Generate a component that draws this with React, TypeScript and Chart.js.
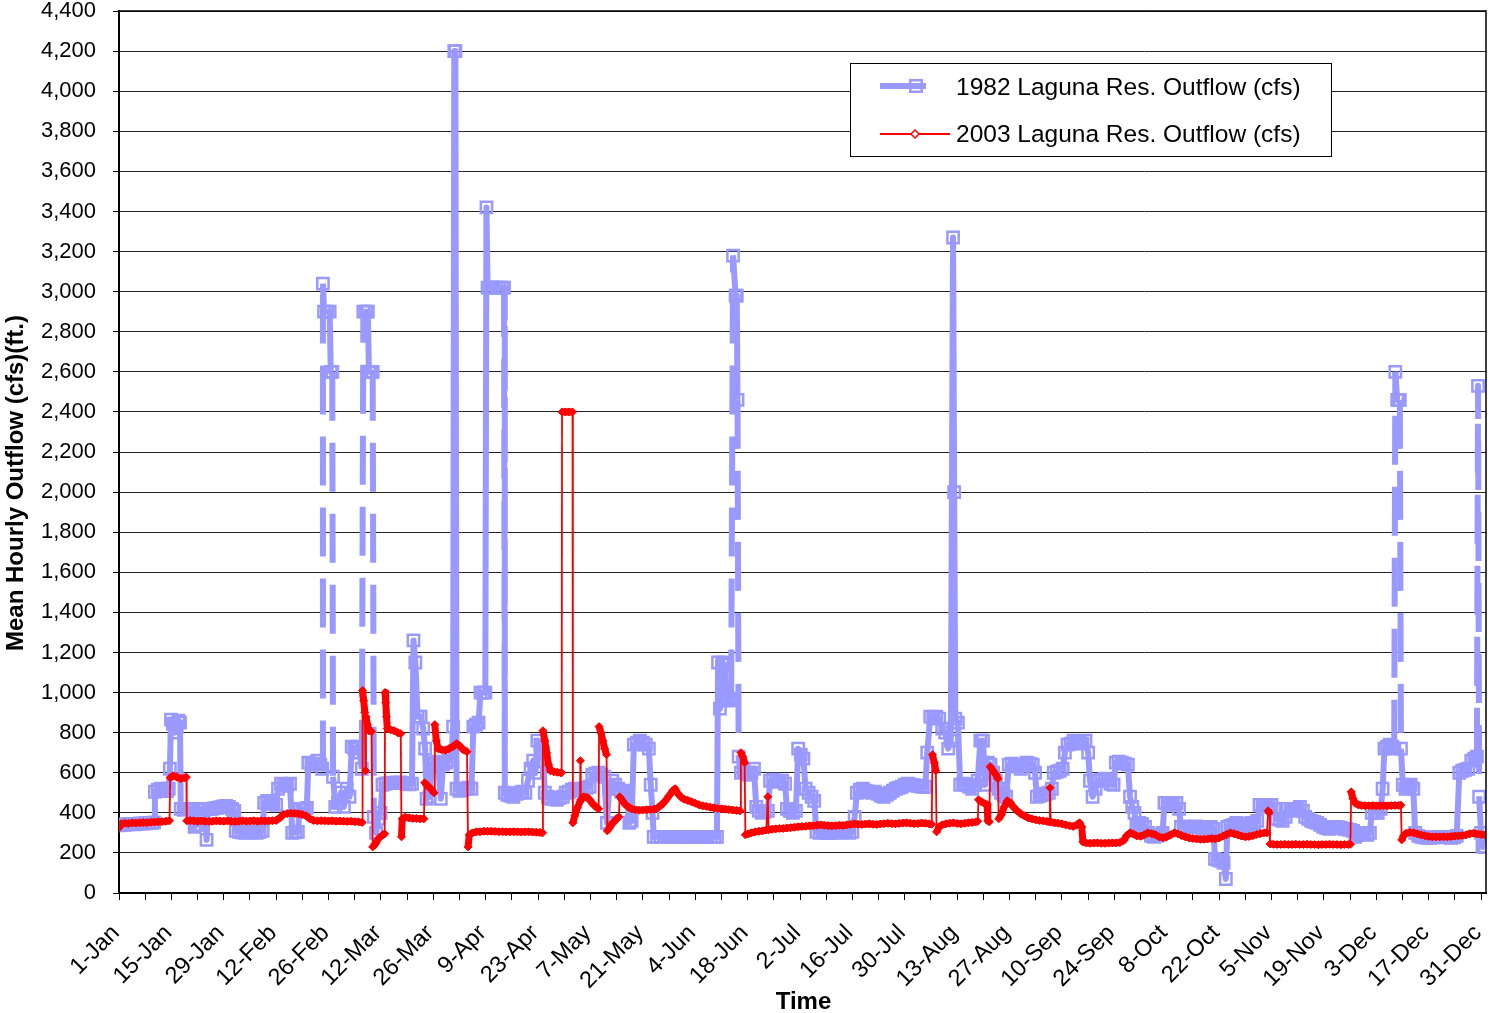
import React, { useEffect, useRef } from 'react';
import { Chart, registerables } from 'chart.js';

Chart.register(...registerables);

// ---------------- data ----------------
const xTickLabels = [
  '1-Jan', '15-Jan', '29-Jan', '12-Feb', '26-Feb', '12-Mar', '26-Mar', '9-Apr', '23-Apr',
  '7-May', '21-May', '4-Jun', '18-Jun', '2-Jul', '16-Jul', '30-Jul', '13-Aug', '27-Aug',
  '10-Sep', '24-Sep', '8-Oct', '22-Oct', '5-Nov', '19-Nov', '3-Dec', '17-Dec', '31-Dec',
];

const seriesNames = ['1982 Laguna Res. Outflow (cfs)', '2003 Laguna Res. Outflow (cfs)'];

// [day of year (0 = 1-Jan), mean hourly outflow cfs]
const outflow1982: [number, number][] = [
  [0, 338], [0.8, 342], [1.6, 340], [2.4, 343], [3.2, 345], [4.0, 343], [4.8, 345], [5.6, 347], [6.4, 346], [7.2, 348], [8.0, 350], [8.8, 350], [9.4, 352],
  [9.6, 505], [10.4, 515], [11.2, 520], [12.0, 512], [12.8, 508], [13.3, 520],
  [13.6, 620], [13.9, 865], [14.4, 845], [14.9, 800], [15.4, 830], [15.9, 860], [16.3, 850],
  [16.5, 420], [17.3, 415], [18.1, 418], [18.9, 420], [19.7, 416],
  [20.2, 330], [20.8, 340], [21.3, 418], [22.1, 420], [22.9, 418],
  [23.4, 265], [23.8, 418], [24.6, 420], [25.4, 422], [26.2, 425], [27.0, 428], [27.8, 432], [28.6, 435], [29.4, 430], [30.2, 420], [30.8, 410],
  [31.2, 310], [32.0, 305], [32.8, 302], [33.6, 300], [34.4, 302], [35.2, 305], [36.0, 302], [36.8, 300], [37.6, 305], [38.4, 310],
  [38.8, 450], [39.6, 460], [40.4, 455], [41.2, 445], [42.0, 440],
  [42.5, 520], [43.3, 545], [44.1, 540], [44.9, 535], [45.7, 545],
  [46.3, 300], [47.1, 302], [47.8, 305],
  [48.3, 420], [49.0, 415], [49.6, 420], [50.2, 425],
  [50.6, 650], [51.4, 640], [52.2, 645], [53.0, 660], [53.8, 640], [54.3, 620],
  [54.5, 3040], [54.8, 2900], [55.6, 2900], [56.3, 2900], [56.6, 2600], [57.0, 2600],
  [57.2, 580], [57.8, 430], [58.5, 450], [59.3, 500], [60.1, 430], [60.9, 520], [61.6, 480],
  [62.2, 730], [62.9, 720], [63.6, 730], [64.3, 700], [64.9, 620],
  [65.3, 2900], [66.0, 2900], [66.5, 2900], [66.8, 2600], [67.3, 2600], [67.8, 2600],
  [68.1, 380], [68.7, 300], [69.3, 370], [69.9, 400],
  [70.4, 540], [71.2, 545], [72.0, 548], [72.8, 550], [73.6, 548], [74.4, 550], [75.2, 552], [76.0, 548], [76.8, 545], [77.6, 542], [78.3, 545],
  [78.7, 1260], [79.2, 1150], [79.8, 880], [80.6, 880], [81.3, 820], [81.8, 720],
  [82.2, 470], [83.0, 480], [83.6, 640], [84.4, 650], [85.2, 655], [86.0, 470], [86.6, 640], [87.4, 650], [88.2, 660], [88.9, 700],
  [89.3, 830], [89.6, 4200], [89.9, 4200], [90.2, 520], [91.0, 510], [91.8, 515], [92.6, 520], [93.4, 525], [94.2, 520],
  [94.7, 830], [95.4, 840], [96.1, 850], [96.6, 1000], [97.3, 1000], [97.9, 1000],
  [98.2, 3420], [98.5, 3020], [99.3, 3020], [100.1, 3020], [100.9, 3020], [101.7, 3020], [102.5, 3020], [102.9, 3020],
  [103.1, 500], [103.8, 490], [104.6, 485], [105.4, 480], [106.2, 495], [107.0, 500], [107.8, 505], [108.6, 500],
  [109.3, 560], [110.0, 620], [110.7, 660], [111.3, 600],
  [111.8, 760], [112.6, 740], [113.3, 700],
  [113.8, 500], [114.6, 480], [115.4, 470], [116.2, 470], [117.0, 465], [117.8, 475], [118.6, 480], [119.4, 500], [120.2, 505], [121.0, 515], [121.8, 520], [122.6, 510], [123.4, 515], [124.2, 520], [125.0, 525], [125.8, 530],
  [126.5, 590], [127.3, 595], [128.1, 600], [128.9, 590], [129.7, 580],
  [130.4, 350], [131.0, 520], [131.8, 560], [132.6, 540], [133.4, 520], [134.2, 505], [135.0, 500], [135.8, 510],
  [136.4, 350], [137.0, 360],
  [137.6, 740], [138.4, 750], [139.2, 760], [140.0, 750], [140.8, 740], [141.6, 720],
  [142.1, 540], [142.6, 400],
  [142.9, 280], [143.8, 280], [144.7, 280], [145.6, 280], [146.5, 280], [147.4, 280], [148.3, 280], [149.2, 280], [150.1, 280], [151.0, 280], [151.9, 280], [152.8, 280], [153.7, 280], [154.6, 280], [155.5, 280], [156.4, 280], [157.3, 280], [158.2, 280], [159.1, 280], [159.8, 280],
  [160.1, 1150], [160.6, 920], [161.2, 1150], [161.8, 1140], [162.4, 980], [163.0, 960], [163.6, 970],
  [164.1, 3180], [164.8, 2980], [165.1, 2980], [165.3, 2460],
  [165.6, 680], [166.2, 600], [166.9, 610], [167.6, 600], [168.3, 590], [169.0, 600], [169.7, 620],
  [170.3, 430], [171.0, 410], [171.8, 400], [172.6, 405], [173.4, 410],
  [174.0, 560], [174.8, 565], [175.6, 560], [176.4, 555], [177.2, 560], [178.0, 545],
  [178.5, 420], [179.3, 410], [180.1, 400], [180.9, 410],
  [181.5, 720], [182.2, 690], [182.9, 670],
  [183.5, 520], [184.3, 500], [185.1, 480], [185.8, 460],
  [186.4, 305], [187.2, 300], [188.0, 305], [188.8, 300], [189.6, 302], [190.4, 300], [191.2, 305], [192.0, 300], [192.8, 305], [193.6, 310], [194.4, 305], [195.2, 300], [196.0, 305],
  [196.6, 380], [197.2, 500], [198.0, 515], [198.8, 520], [199.6, 510], [200.4, 505], [201.2, 500], [202.0, 505], [202.8, 495], [203.6, 485], [204.4, 480], [205.2, 490], [206.0, 500], [206.8, 510], [207.6, 520], [208.4, 525], [209.2, 530], [210.0, 540], [210.8, 545], [211.6, 540], [212.4, 538], [213.2, 535], [214.0, 532], [214.8, 530], [215.5, 530],
  [216.0, 700], [216.8, 880], [217.6, 875], [218.4, 880], [219.2, 870], [220.0, 820], [220.8, 800], [221.6, 720], [222.3, 760],
  [222.9, 3270], [223.2, 2000], [223.5, 870], [224.2, 850],
  [224.8, 540], [225.6, 545], [226.4, 540], [227.2, 530], [228.0, 520], [228.8, 540], [229.5, 560],
  [230.2, 760], [230.9, 760],
  [231.5, 540], [232.2, 650], [232.9, 640], [233.6, 600], [234.3, 560], [235.0, 520], [235.7, 500], [236.4, 490], [237.1, 480],
  [237.8, 640], [238.6, 645], [239.4, 640], [240.2, 630], [241.0, 620], [241.8, 640], [242.6, 650], [243.4, 645], [244.2, 640], [244.8, 600],
  [245.3, 480], [246.1, 485], [246.9, 490], [247.7, 495], [248.5, 500], [249.3, 520],
  [249.8, 600], [250.6, 605], [251.4, 610], [252.2, 620],
  [252.8, 700], [253.5, 740], [254.3, 745], [255.1, 760], [255.9, 755], [256.7, 750], [257.5, 745], [258.3, 760], [259.0, 700],
  [259.5, 560], [260.2, 480], [261.0, 520], [261.8, 560], [262.6, 565], [263.4, 570], [264.2, 560], [265.0, 545], [265.8, 540],
  [266.4, 650], [267.2, 655], [268.0, 650], [268.8, 645], [269.6, 640],
  [270.2, 480], [270.8, 430], [271.4, 400],
  [271.9, 340], [272.6, 350], [273.4, 345], [274.2, 330], [275.0, 300], [275.8, 285], [276.6, 280], [277.4, 285], [278.2, 290], [278.9, 300],
  [279.4, 450], [280.2, 445], [281.0, 440], [281.8, 445], [282.6, 450], [283.3, 420],
  [283.8, 330], [284.6, 332], [285.4, 330], [286.2, 328], [287.0, 330], [287.8, 332], [288.6, 330], [289.4, 325], [290.2, 320], [291.0, 325], [291.8, 330], [292.5, 320],
  [292.9, 170], [293.6, 165], [294.4, 160], [295.2, 150], [295.8, 70],
  [296.2, 330], [297.0, 335], [297.8, 340], [298.6, 350], [299.4, 345], [300.2, 335], [301.0, 330], [301.8, 340], [302.6, 350], [303.4, 345], [304.2, 360],
  [304.8, 440], [305.6, 435], [306.4, 430], [307.2, 435], [308.0, 440], [308.8, 420],
  [309.4, 370], [310.2, 365], [311.0, 360], [311.8, 380],
  [312.4, 420], [313.2, 415], [314.0, 410], [314.8, 420], [315.6, 430], [316.4, 410],
  [317.0, 380], [317.8, 370], [318.6, 360], [319.4, 355], [320.2, 350], [321.0, 340], [321.8, 330], [322.6, 325], [323.4, 320], [324.2, 325], [325.0, 330], [325.8, 328], [326.6, 325], [327.4, 320], [328.2, 318], [329.0, 315], [329.8, 310],
  [330.4, 280], [331.2, 290], [332.0, 300], [332.8, 295], [333.6, 290], [334.3, 300],
  [334.8, 400], [335.6, 405], [336.4, 400], [337.2, 420],
  [337.7, 520], [338.2, 720], [338.9, 730], [339.6, 740], [340.3, 730], [340.8, 720],
  [341.1, 2600], [341.6, 2460], [342.0, 2460], [342.3, 2460],
  [342.6, 720], [343.1, 540], [343.8, 520], [344.5, 530], [345.2, 540], [345.9, 520],
  [346.4, 300], [347.2, 285], [348.0, 280], [348.8, 278], [349.6, 275], [350.4, 275], [351.2, 278], [352.0, 280], [352.8, 280], [353.6, 278], [354.4, 280], [355.2, 278], [356.0, 275], [356.8, 278], [357.5, 285],
  [358.2, 600], [359.0, 610], [359.8, 615], [360.6, 620], [361.4, 660], [362.2, 670], [362.9, 680],
  [363.2, 2530], [363.5, 480], [364.0, 300], [364.4, 230], [365.0, 230],
];

const outflow2003: [number, number][] = [
  [0, 325], [0.5, 345], [1.5, 348], [2.5, 347], [3.5, 350], [4.5, 349], [5.5, 350], [6.5, 352], [7.5, 351], [8.5, 353], [9.5, 354], [10.5, 355], [11.5, 356], [12.5, 358], [13.5, 360],
  [13.7, 575], [14.5, 585], [15.5, 578], [16.5, 570], [17.5, 575], [18.0, 578],
  [18.1, 360], [19, 362], [20, 360], [21, 358], [22, 360], [23, 358], [24, 357], [25, 358], [26, 360], [27, 359], [28, 358], [29, 360], [30, 358], [31, 357], [32, 358], [33, 360], [34, 358], [35, 359], [36, 360], [37, 358], [38, 360], [39, 359], [40, 360], [41, 361], [42, 362],
  [43, 375], [44, 392], [45, 396], [46, 398], [47, 397], [48, 395], [49, 392], [50, 385], [51, 370], [52, 362], [53, 360], [54, 361], [55, 360], [56, 359], [57, 360], [58, 358], [59, 359], [60, 358], [61, 357], [62, 358], [63, 356], [64, 355], [65, 352],
  [65.1, 1010], [65.4, 960], [65.7, 900], [65.9, 610], [66.0, 880], [66.4, 840], [66.8, 810], [67.5, 805],
  [67.8, 230], [68.5, 245], [69.5, 275], [70.5, 290], [71.0, 295],
  [71.1, 1000], [71.3, 950], [71.5, 880], [71.7, 820], [72.5, 815], [73.5, 810], [74.5, 800], [75.3, 795],
  [75.5, 280], [75.7, 370], [76.5, 378], [77.5, 375], [78.5, 372], [79.5, 372], [80.5, 370], [81.5, 370],
  [81.7, 550], [82.5, 535], [83.3, 520], [84.2, 500],
  [84.4, 840], [84.8, 760], [85.3, 720], [86.2, 715], [87.2, 712], [88.2, 720], [89.2, 730], [90.2, 745], [91.0, 735], [92.0, 715], [93.0, 705],
  [93.3, 230], [93.6, 290], [94.5, 300], [95.5, 305], [96.5, 305], [97.5, 308], [98.5, 308], [99.5, 308], [100.5, 307], [101.5, 306], [102.5, 306], [103.5, 305], [104.5, 305], [105.5, 306], [106.5, 305], [107.5, 304], [108.5, 305], [109.5, 305], [110.5, 304], [111.5, 303], [112.5, 302], [113.2, 300],
  [113.3, 810], [113.8, 760], [114.3, 700], [114.8, 640], [115.3, 610], [116.2, 605], [117.2, 602], [118.0, 600], [118.3, 600],
  [118.4, 2400], [119.3, 2400], [120.2, 2400], [121.2, 2400],
  [121.3, 350], [121.8, 385], [122.5, 425], [123.2, 455], [123.3, 660], [123.4, 465], [124.2, 480], [125.0, 478], [125.8, 465], [126.6, 445], [127.4, 430], [128.2, 420],
  [128.3, 830], [128.8, 800], [129.3, 760], [129.8, 720], [130.3, 690],
  [130.5, 310], [131.2, 330], [132.0, 350], [132.8, 365], [133.6, 380],
  [133.8, 480], [134.6, 460], [135.4, 440], [136.2, 428], [137.0, 420], [138.0, 415], [139.0, 413], [140.0, 414], [141.0, 415], [142.0, 416], [143.0, 418], [144.0, 425], [145.0, 440], [146.0, 460], [147.0, 485], [148.0, 510], [148.6, 520], [149.4, 495], [150.2, 478], [151.0, 468], [152.0, 462], [153.0, 455], [154.0, 448], [155.0, 440], [156.0, 435], [157.0, 432], [158.0, 428], [159.0, 425], [160.0, 422], [161.0, 420], [162.0, 418], [163.0, 416], [164.0, 414], [165.0, 412], [166.0, 410],
  [166.2, 700], [166.7, 680], [167.2, 650],
  [167.4, 290], [168.2, 295], [169.0, 300], [170.0, 305], [171.0, 308], [172.0, 310], [173.0, 314], [173.4, 480], [173.6, 315], [174.5, 318], [175.5, 320], [176.5, 322], [177.5, 322], [178.5, 324], [179.5, 326], [180.5, 328], [181.5, 330], [182.5, 332], [183.5, 333], [184.5, 335], [185.5, 336], [186.5, 338], [187.5, 340], [188.5, 338], [189.5, 336], [190.5, 335], [191.5, 336], [192.5, 338], [193.5, 337], [194.5, 340], [195.5, 342], [196.5, 345], [197.5, 343], [198.5, 342], [199.5, 344], [200.5, 345], [201.5, 343], [202.5, 342], [203.5, 344], [204.5, 346], [205.5, 348], [206.5, 346], [207.5, 345], [208.5, 347], [209.5, 349], [210.5, 350], [211.5, 348], [212.5, 346], [213.5, 347], [214.5, 349], [215.5, 348], [216.5, 345], [217.2, 343],
  [217.4, 690], [217.9, 650], [218.3, 610],
  [218.5, 305], [219.2, 330], [220.0, 340], [221.0, 345], [222.0, 348], [223.0, 350], [224.0, 347], [225.0, 345], [226.0, 348], [227.0, 350], [228.0, 352], [229.0, 355], [229.5, 358],
  [229.7, 465], [230.5, 455], [231.4, 445], [232.0, 440],
  [232.2, 360], [232.6, 355],
  [232.8, 630], [233.6, 610], [234.4, 590], [234.9, 570],
  [235.1, 370], [235.8, 390], [236.6, 430], [237.4, 460], [238.2, 450], [239.0, 430], [240.0, 410], [241.0, 395], [242.0, 385], [243.0, 375], [244.0, 370], [245.0, 365], [246.0, 362], [247.0, 360], [248.0, 357], [248.6, 355],
  [248.8, 525], [249.0, 355], [250.0, 350], [251.0, 348], [252.0, 345], [253.0, 340], [254.0, 336], [255.0, 332], [256.0, 340], [256.7, 350], [257.3, 330],
  [257.6, 255], [258.5, 250], [259.5, 248], [260.5, 249], [261.5, 250], [262.5, 248], [263.5, 248], [264.5, 249], [265.5, 250], [266.5, 250], [267.5, 252], [268.5, 262], [269.3, 285], [270.2, 300], [271.0, 295], [272.0, 285], [273.0, 283], [274.0, 290], [275.0, 300], [276.0, 296], [277.0, 290], [278.0, 280], [279.0, 276], [280.0, 280], [281.0, 290], [282.0, 300], [283.0, 295], [284.0, 287], [285.0, 280], [286.0, 275], [287.0, 272], [288.0, 270], [289.0, 268], [290.0, 268], [291.0, 270], [292.0, 272], [293.0, 270], [294.0, 275], [295.0, 283], [296.0, 292], [297.0, 300], [298.0, 296], [299.0, 290], [300.0, 284], [301.0, 280], [302.0, 282], [303.0, 286], [304.0, 292], [305.0, 296], [306.0, 300], [306.8, 300],
  [307.1, 410], [307.4, 400],
  [307.6, 245], [308.5, 243], [309.5, 242], [310.5, 242], [311.5, 243], [312.5, 242], [313.5, 242], [314.5, 243], [315.5, 242], [316.5, 242], [317.5, 243], [318.5, 242], [319.5, 242], [320.5, 241], [321.5, 242], [322.5, 242], [323.5, 243], [324.5, 242], [325.5, 242], [326.5, 241], [327.5, 242], [328.5, 242], [329.1, 243],
  [329.3, 505], [329.8, 470], [330.4, 448], [331.2, 440], [332.0, 437], [333.0, 436], [334.0, 435], [335.0, 436], [336.0, 435], [337.0, 435], [338.0, 436], [339.0, 435], [340.0, 436], [341.0, 437], [342.0, 437], [342.6, 438],
  [342.8, 265], [343.3, 285], [344.0, 298], [345.0, 303], [346.0, 300], [347.0, 295], [348.0, 290], [349.0, 286], [350.0, 282], [351.0, 280], [352.0, 280], [353.0, 280], [354.0, 281], [355.0, 280], [356.0, 282], [357.0, 284], [358.0, 285], [359.0, 287], [360.0, 290], [361.0, 296], [362.0, 298], [363.0, 295], [364.0, 292], [365.0, 290],
];

// ---------------- layout / style ----------------
const W = 1490;
const H = 1013;
const PLOT = { left: 119, right: 1486, top: 11, bottom: 893 };
const DAY_MAX = 365.33;
const Y_MAX = 4400;
const Y_STEP = 200;
const BLUE = '#9999FF';
const RED = '#FF0000';
const FONT = '"Liberation Sans", Arial, sans-serif';

const zeroPadding = (s: any) => {
  s.paddingTop = 0;
  s.paddingBottom = 0;
  s.paddingLeft = 0;
  s.paddingRight = 0;
};

const overlayPlugin = {
  id: 'excelOverlay',
  afterDraw(chart: any) {
    const { ctx, chartArea } = chart;
    ctx.save();
    // plot area border (top / right)
    ctx.strokeStyle = '#000';
    ctx.lineWidth = 1.5;
    ctx.beginPath();
    ctx.moveTo(chartArea.left, chartArea.top);
    ctx.lineTo(chartArea.right, chartArea.top);
    ctx.lineTo(chartArea.right, chartArea.bottom);
    ctx.stroke();

    // legend
    const lx = 850, ly = 63, lw = 481, lh = 93;
    ctx.fillStyle = '#fff';
    ctx.fillRect(lx, ly, lw, lh);
    ctx.lineWidth = 1;
    ctx.strokeStyle = '#000';
    ctx.strokeRect(lx + 0.5, ly + 0.5, lw, lh);

    // blue sample
    ctx.strokeStyle = BLUE;
    ctx.lineWidth = 6;
    ctx.beginPath();
    ctx.moveTo(880, 86);
    ctx.lineTo(926, 86);
    ctx.stroke();
    ctx.lineWidth = 2.5;
    ctx.strokeRect(916 - 5.75, 86 - 5.75, 11.5, 11.5);

    // red sample
    ctx.strokeStyle = RED;
    ctx.lineWidth = 2;
    ctx.beginPath();
    ctx.moveTo(880, 134);
    ctx.lineTo(950, 134);
    ctx.stroke();
    ctx.fillStyle = '#fff';
    ctx.lineWidth = 1.5;
    ctx.beginPath();
    ctx.moveTo(915, 130);
    ctx.lineTo(919, 134);
    ctx.lineTo(915, 138);
    ctx.lineTo(911, 134);
    ctx.closePath();
    ctx.fill();
    ctx.stroke();

    ctx.fillStyle = '#000';
    ctx.font = `24.5px ${FONT}`;
    ctx.textAlign = 'left';
    ctx.textBaseline = 'middle';
    ctx.fillText(seriesNames[0], 956, 88);
    ctx.fillText(seriesNames[1], 956, 135);

    // axis titles
    ctx.font = `bold 24px ${FONT}`;
    ctx.textAlign = 'center';
    ctx.textBaseline = 'middle';
    ctx.fillText('Time', (chartArea.left + chartArea.right) / 2 + 1, 1002);
    ctx.translate(16, 483);
    ctx.rotate(-Math.PI / 2);
    ctx.fillText('Mean Hourly Outflow (cfs)(ft.)', 0, 0);
    ctx.restore();
  },
};

export default function App() {
  const ref = useRef<HTMLCanvasElement>(null);

  useEffect(() => {
    const canvas = ref.current;
    if (!canvas) return;

    const chart = new Chart(canvas, {
      type: 'line',
      data: {
        datasets: [
          {
            label: seriesNames[0],
            data: outflow1982.map(([x, y]) => ({ x, y })),
            borderColor: BLUE,
            borderWidth: 6,
            borderJoinStyle: 'round',
            pointStyle: 'rect',
            pointRadius: 8,
            pointBorderWidth: 2.5,
            pointBorderColor: BLUE,
            pointBackgroundColor: 'rgba(0,0,0,0)',
            tension: 0,
            order: 1,
            segment: {
              borderDash: (c: any) => {
                const a = c.p0.parsed.y;
                const b = c.p1.parsed.y;
                return Math.abs(a - b) >= 1500 && Math.max(a, b) < 3250 ? [49, 22] : undefined;
              },
            },
          },
          {
            label: seriesNames[1],
            data: outflow2003.map(([x, y]) => ({ x, y })),
            borderColor: RED,
            borderWidth: 2,
            borderJoinStyle: 'round',
            pointStyle: 'rectRot',
            pointRadius: 4,
            pointBorderWidth: 1,
            pointBorderColor: RED,
            pointBackgroundColor: RED,
            tension: 0,
            order: 0,
            segment: {
              borderWidth: (c: any) => (Math.abs(c.p0.parsed.y - c.p1.parsed.y) < 100 ? 7 : 1.8),
            },
          },
        ],
      },
      options: {
        animation: false,
        responsive: false,
        events: [],
        layout: { autoPadding: false, padding: { left: 0, top: PLOT.top, right: W - PLOT.right, bottom: 0 } },
        plugins: {
          legend: { display: false },
          tooltip: { enabled: false },
          title: { display: false },
        },
        scales: {
          x: {
            type: 'linear',
            min: 0,
            max: DAY_MAX,
            ticks: {
              stepSize: 7,
              autoSkip: false,
              includeBounds: false,
              minRotation: 45,
              maxRotation: 45,
              padding: 21,
              labelOffset: -3,
              color: '#000',
              font: { family: FONT, size: 23.5, lineHeight: 1 },
              callback: (v: any) => {
                const i = Math.round(Number(v) / 7);
                return i % 2 === 0 ? xTickLabels[i / 2] ?? '' : '';
              },
            },
            grid: { drawOnChartArea: false, drawTicks: true, tickLength: 7, color: '#000', tickColor: '#000', lineWidth: 1 },
            border: { display: true, color: '#000', width: 2 },
            afterFit: (s: any) => {
              s.height = H - PLOT.bottom;
              zeroPadding(s);
            },
          },
          y: {
            type: 'linear',
            min: 0,
            max: Y_MAX,
            ticks: {
              stepSize: Y_STEP,
              padding: 17,
              color: '#000',
              font: { family: FONT, size: 22, lineHeight: 1 },
              callback: (v: any) => Number(v).toLocaleString('en-US'),
            },
            grid: { color: '#222', tickColor: '#000', lineWidth: 1, tickLength: 6, drawTicks: true },
            border: { display: true, color: '#000', width: 2 },
            afterFit: (s: any) => {
              s.width = PLOT.left;
              zeroPadding(s);
            },
          },
        },
      },
      plugins: [overlayPlugin],
    } as any);

    return () => chart.destroy();
  }, []);

  return (
    <div style={{ position: 'fixed', left: 0, top: 0, width: W, height: H, background: '#fff' }}>
      <canvas ref={ref} width={W} height={H} style={{ display: 'block', width: W, height: H }} />
    </div>
  );
}
